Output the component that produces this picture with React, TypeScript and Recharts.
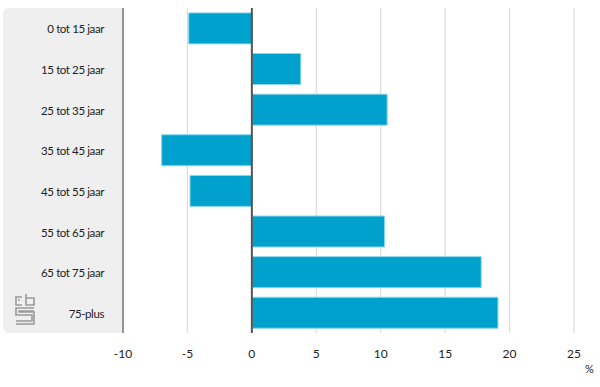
import { Bar, BarChart, CartesianGrid, ReferenceLine, XAxis, YAxis } from "recharts";

const categories = [
  "0 tot 15 jaar",
  "15 tot 25 jaar",
  "25 tot 35 jaar",
  "35 tot 45 jaar",
  "45 tot 55 jaar",
  "55 tot 65 jaar",
  "65 tot 75 jaar",
  "75-plus",
];
const values = [-4.9, 3.8, 10.5, -7.0, -4.8, 10.3, 17.8, 19.1];
const xTicks = [-10, -5, 0, 5, 10, 15, 20, 25];

const rows = categories.map((name, i) => ({ name, value: values[i] }));

const FONT = "Lato, 'Noto Sans', sans-serif";

function CbsLogo() {
  return (
    <svg width="22" height="32" viewBox="0 0 22 32" style={{ position: "absolute", left: 14, top: 293 }}>
      <g fill="none" stroke="#9a9a9a" strokeWidth="1.6">
        <path d="M8 4 H2 V12 H8" />
        <path d="M4 7 H6" />
        <path d="M12 1 V12 H20 V5 H12" />
        <path d="M20 15 H2 V22 H18 V28 H2" />
        <path d="M20 18 H5 V19 H20 V31 H2" />
      </g>
    </svg>
  );
}

export default function App() {
  return (
    <div style={{ position: "absolute", left: 0, top: 0, width: 600, height: 387, background: "#fff", fontFamily: FONT }}>
      <div
        style={{
          position: "absolute",
          left: 3,
          top: 8,
          width: 120,
          height: 325,
          background: "#efefef",
          borderRadius: "6px 0 0 6px",
        }}
      />
      <CbsLogo />
      <div style={{ position: "absolute", left: 0, top: 0 }}>
        <BarChart
          width={600}
          height={387}
          data={rows}
          layout="vertical"
          margin={{ top: 8, right: 26, bottom: 24, left: 3 }}
          barCategoryGap="12%"
        >
          <CartesianGrid horizontal={false} stroke="#dcdcdc" strokeWidth={1.2} />
          <XAxis
            type="number"
            domain={[-10, 25]}
            ticks={xTicks}
            axisLine={false}
            tickLine={false}
            tickMargin={10}
            height={30}
            tick={{ fill: "#222", fontSize: 12, fontFamily: FONT }}
          />
          <YAxis
            type="category"
            dataKey="name"
            width={120}
            axisLine={{ stroke: "#777", strokeWidth: 1.5 }}
            tickLine={false}
            tickMargin={13}
            tick={{ fill: "#222", fontSize: 11.5, fontFamily: FONT, letterSpacing: -0.4, dy: 1 }}
          />
          <Bar dataKey="value" fill="#00a1cd" stroke="#8fd6ea" strokeWidth={1} isAnimationActive={false} />
          <ReferenceLine x={0} stroke="#555" strokeWidth={2} />
        </BarChart>
      </div>
      <span style={{ position: "absolute", left: 585, top: 362, fontSize: 11, color: "#222" }}>%</span>
    </div>
  );
}
